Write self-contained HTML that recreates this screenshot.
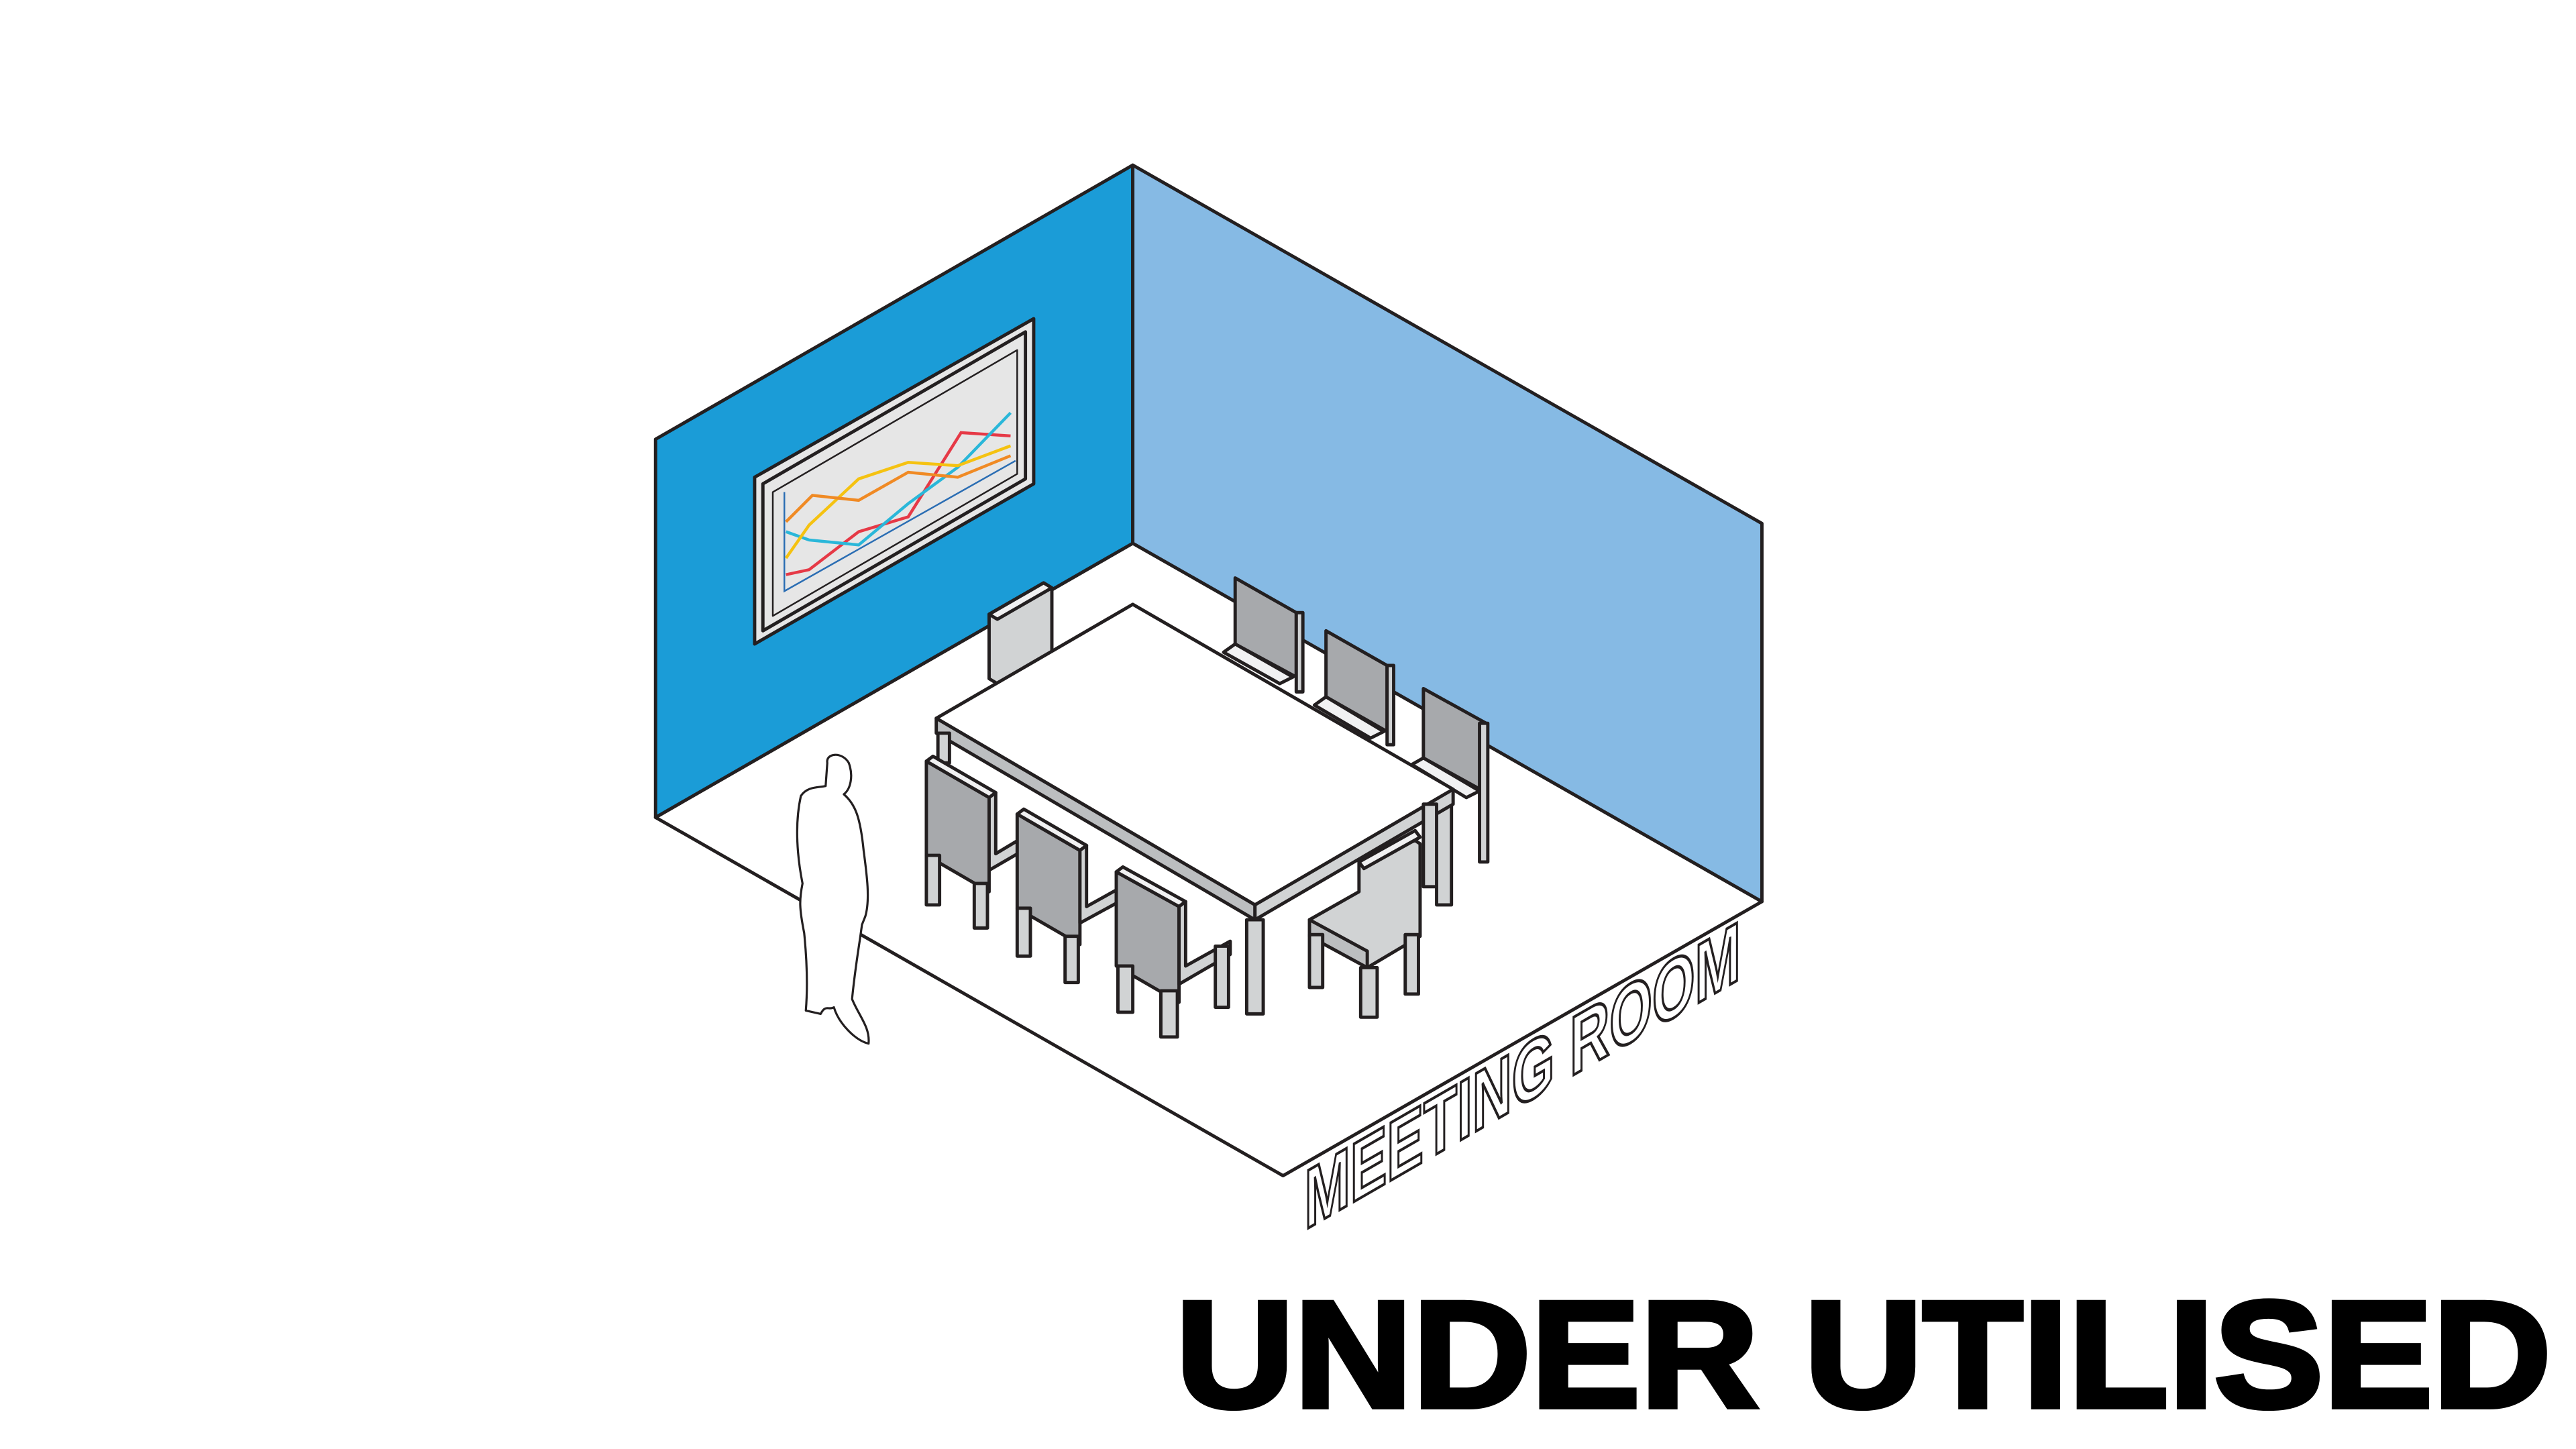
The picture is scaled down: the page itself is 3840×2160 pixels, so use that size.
<!DOCTYPE html>
<html><head><meta charset="utf-8"><style>
html,body{margin:0;padding:0;background:#fff;width:3840px;height:2160px;overflow:hidden}
svg{display:block}
</style></head><body>
<svg width="3840" height="2160" viewBox="0 0 1560 877.5" xmlns="http://www.w3.org/2000/svg">
<g stroke="#231f20" stroke-width="2" stroke-linejoin="round">
<!-- floor -->
<polygon points="397,495 686,329 1067,546 777,712" fill="#fff"/>
<!-- walls -->
<polygon points="397,266 686,100 686,329 397,495" fill="#1b9cd7"/>
<polygon points="686,100 1067,317 1067,546 686,329" fill="#86bae4"/>
<!-- screen -->
<polygon points="457,289 626,193 626,293 457,390" fill="#e6e6e6" stroke-width="2"/>
<polygon points="462,293 621,201 621,290 462,382" fill="#e6e6e6" stroke-width="2"/>
<polygon points="468,298 616,212 616,287 468,373" fill="#e6e6e6" stroke-width="1"/>
</g>
<!-- chart -->
<g fill="none" stroke-width="1.8">
<polyline points="475,298 475,358 615,279" stroke="#2a6db3" stroke-width="1"/>
<polyline points="476,348 490,345 520,322 550,313 582,262 612,264" stroke="#e63946"/>
<polyline points="476,322 490,327 520,330 550,305 580,283 612,250" stroke="#2ab7d9"/>
<polyline points="476,338 490,318 520,290 550,280 580,282 612,270" stroke="#f5c211"/>
<polyline points="476,316 492,300 520,303 550,286 580,289 612,276" stroke="#f08a24"/>
</g>
<g stroke="#231f20" stroke-width="2" stroke-linejoin="round">
<!-- back-left chair -->
<polygon points="599,372 632,353 637,356 637,395 604,414 599,411" fill="#d1d3d4"/>
<polygon points="599,372 632,353 637,356 604,375" fill="#f1f1f2"/>
<!-- back chairs (right wall) -->
<g fill="#a7a9ac">
<polygon points="748,350 785,371 785,410 748,390"/>
<polygon points="803,382 840,403 840,443 803,422"/>
<polygon points="862,417 900,438 900,480 862,459"/>
</g>
<g fill="#f1f1f2">
<polygon points="741,395 775,414 783,410 748,390"/>
<polygon points="796,427 830,447 838,443 803,422"/>
<polygon points="855,463 888,483 896,479 862,459"/>
</g>
<g fill="#d1d3d4">
<rect x="785" y="371" width="4" height="48"/>
<rect x="840" y="403" width="4" height="48"/>
<rect x="896" y="438" width="5" height="84"/>
<rect x="870" y="488" width="9" height="60"/>
</g>
<!-- table top -->
<polygon points="567,435 686,366 880,478 760,548" fill="#fff"/>
<polygon points="567,435 760,548 760,557 567,444" fill="#bcbec0"/>
<polygon points="760,548 880,478 880,487 760,557" fill="#d1d3d4"/>
<g fill="#d1d3d4">
<rect x="568" y="444" width="7" height="18"/>
<rect x="755" y="557" width="10" height="57"/>
<rect x="862" y="487" width="8" height="50"/>
</g>
<!-- left chairs -->
<g>
<polygon points="561,461 599,483 599,540 561,518" fill="#a7a9ac"/>
<polygon points="561,461 565,458 603,480 599,483" fill="#f1f1f2"/>
<polygon points="599,483 603,480 603,517 618,508 618,516 599,527" fill="#d1d3d4"/>
<rect x="561" y="518" width="8" height="30" fill="#d1d3d4"/>
<rect x="590" y="535" width="8" height="27" fill="#d1d3d4"/>
</g>
<g>
<polygon points="616,493 654,515 654,572 616,550" fill="#a7a9ac"/>
<polygon points="616,493 620,490 658,512 654,515" fill="#f1f1f2"/>
<polygon points="654,515 658,512 658,549 676,539 676,547 654,559" fill="#d1d3d4"/>
<rect x="616" y="550" width="8" height="29" fill="#d1d3d4"/>
<rect x="645" y="567" width="8" height="28" fill="#d1d3d4"/>
</g>
<g>
<polygon points="676,528 714,549 714,607 676,585" fill="#a7a9ac"/>
<polygon points="676,528 680,525 718,546 714,549" fill="#f1f1f2"/>
<polygon points="714,549 718,546 718,585 745,570 745,578 714,596" fill="#d1d3d4"/>
<rect x="677" y="585" width="9" height="28" fill="#d1d3d4"/>
<rect x="736" y="573" width="8" height="37" fill="#d1d3d4"/>
<rect x="703" y="600" width="10" height="28" fill="#d1d3d4"/>
</g>
<!-- front right chair -->
<g>
<polygon points="793,557 823,540 823,522 857,509 860,511 860,567 828,586" fill="#d1d3d4"/>
<polygon points="823,522 857,503 860,507 826,526" fill="#f1f1f2"/>
<polygon points="793,557 828,576 828,586 793,567" fill="#bcbec0"/>
<rect x="793" y="566" width="8" height="32" fill="#d1d3d4"/>
<rect x="851" y="566" width="8" height="36" fill="#d1d3d4"/>
<rect x="824" y="586" width="10" height="30" fill="#d1d3d4"/>
</g>
</g>
<!-- person -->
<g fill="#fff" stroke="#231f20" stroke-width="1.3" stroke-linejoin="round">
<path d="M501,462 C500,456 510,455 514,462 C517,470 515,478 511,481 C518,487 521,495 523,515 C525,530 527,545 524,555 L522,560 C520,575 518,585 516,605 C520,615 527,622 526,632 C518,630 508,620 505,610 C502,612 500,608 497,614 L488,612 C489,600 489,585 487,565 C484,550 484,545 486,535 C483,520 481,500 485,482 C489,476 496,477 500,476 Z"/>
</g>
<!-- MEETING ROOM -->
<text transform="translate(790,745) rotate(-30) skewX(-30)" font-family="Liberation Sans, sans-serif" font-weight="bold" font-size="44" fill="#fff" stroke="#231f20" stroke-width="1.6" textLength="305" lengthAdjust="spacingAndGlyphs">MEETING ROOM</text>
<!-- title -->
<text x="712" y="852" font-family="Liberation Sans, sans-serif" font-weight="bold" font-size="92" fill="#000" stroke="#000" stroke-width="3" textLength="833" lengthAdjust="spacingAndGlyphs">UNDER UTILISED</text>
</svg>
</body></html>
